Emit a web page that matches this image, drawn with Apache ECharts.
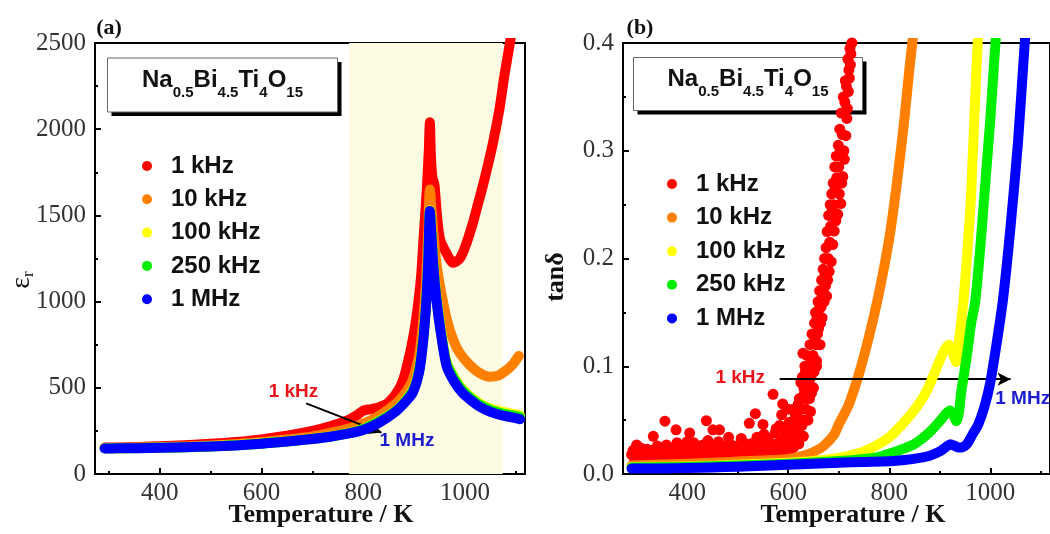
<!DOCTYPE html>
<html><head><meta charset="utf-8">
<script src="https://cdn.jsdelivr.net/npm/echarts@6/dist/echarts.min.js"></script>
<style>html,body{margin:0;padding:0;background:#fff}#c{width:1050px;height:534px}</style>
</head><body><div id="c"></div>
<script>
// ---------- categories / ticks ----------
const seriesNames = ['1 kHz', '10 kHz', '100 kHz', '250 kHz', '1 MHz'];
const seriesColors = ['#ff0000', '#ff8000', '#ffff00', '#00ee00', '#0000ff'];
const xMajorTicks = [400, 600, 800, 1000];
const xMinorTicks = [300, 500, 700, 900, 1100];
const xRange = [273, 1118];
const epsRange = [0, 2500];
const tanRange = [0, 0.4];
const shadeRange = [772, 1074];

// ---------- panel (a): permittivity ----------
const epsRedT = [292, 320, 360, 400, 450, 500, 550, 600, 650, 700, 735, 770, 790, 800, 815, 830, 850, 870, 883, 900, 913, 919, 925, 929, 931, 933, 936, 940, 945, 951, 962, 977, 990, 1002, 1015, 1025, 1035, 1045, 1055, 1068, 1078, 1088, 1096];
const epsRedV = [153, 154, 157, 161, 167, 175, 186, 201, 222, 250, 277, 312, 345, 368, 376, 386, 415, 490, 590, 820, 1120, 1380, 1650, 1880, 2040, 1850, 1720, 1680, 1500, 1360, 1290, 1225, 1250, 1330, 1450, 1560, 1670, 1790, 1920, 2120, 2320, 2494, 2650];

const epsOrangeT = [292, 320, 360, 400, 450, 500, 550, 600, 650, 700, 735, 770, 800, 830, 865, 885, 898, 910, 918, 924, 928, 931, 934, 940, 945, 951, 964, 978, 990, 1010, 1029, 1049, 1065, 1082, 1095, 1106];
const epsOrangeV = [150, 151, 153, 156, 160, 166, 174, 186, 200, 218, 238, 262, 292, 335, 410, 480, 550, 690, 890, 1150, 1420, 1650, 1550, 1330, 1200, 1090, 900, 770, 700, 630, 585, 564, 570, 603, 640, 685];

const epsYellowT = [292, 360, 450, 550, 650, 735, 800, 865, 898, 910, 918, 924, 928, 931, 934, 938, 944, 952, 964, 980, 996, 1015, 1029, 1050, 1075, 1101, 1108];
const epsYellowV = [149, 151, 156, 168, 190, 218, 262, 370, 490, 610, 790, 1010, 1260, 1530, 1400, 1220, 1030, 850, 650, 555, 490, 440, 410, 380, 360, 345, 340];

const epsGreenT = [292, 360, 450, 550, 650, 735, 800, 865, 898, 910, 918, 924, 928, 931, 934, 938, 944, 952, 964, 980, 996, 1015, 1029, 1050, 1075, 1101, 1108];
const epsGreenV = [149, 151, 155, 167, 189, 217, 260, 368, 485, 605, 785, 1005, 1255, 1525, 1395, 1210, 1020, 840, 640, 548, 482, 432, 402, 372, 351, 335, 331];

const epsBlueT = [292, 320, 360, 400, 450, 500, 550, 600, 650, 700, 735, 770, 800, 830, 865, 885, 898, 910, 918, 924, 928, 931, 934, 938, 944, 952, 964, 980, 996, 1015, 1029, 1050, 1075, 1101, 1108];
const epsBlueV = [148, 149, 150, 152, 155, 160, 166, 175, 188, 203, 216, 234, 255, 295, 365, 425, 475, 590, 775, 1000, 1250, 1525, 1390, 1200, 1010, 830, 625, 530, 468, 420, 390, 360, 338, 323, 318];

// ---------- panel (b): loss tangent ----------
const tanRedT = [290, 296, 300, 306, 312, 318, 324, 330, 333, 338, 344, 350, 356, 360, 366, 372, 378, 382, 388, 394, 400, 405, 410, 416, 422, 428, 434, 438, 444, 451, 456, 464, 468, 474, 480, 484, 490, 496, 502, 510, 516, 523, 528, 535, 540, 546, 550, 555, 560, 565, 570, 574, 578, 583, 589, 593, 597, 602, 606, 610, 613, 616, 619, 622, 625, 627, 629, 632, 634, 636, 638, 640, 642, 645, 648, 650, 652, 655, 658, 661, 664, 668, 671, 674, 678, 681, 685, 688, 691, 694, 698, 701, 704, 706, 708, 710, 711, 714, 716, 717, 719, 721, 723, 724, 726,
  300, 315, 340, 365, 390, 415, 440, 465, 490, 515, 540, 565, 590, 605, 620, 631, 644, 656,
  293, 298, 303, 309, 315, 321, 327, 335, 341, 347, 353, 359, 363, 369, 375, 380, 385, 391, 397, 403, 408, 413, 419, 425, 431, 436, 441, 447, 453, 459, 462, 471, 477, 482, 487, 493, 499, 505, 507, 513, 519, 526, 531, 538, 543, 548, 552, 558, 562, 568, 572, 576, 580, 585, 587, 591, 595, 599, 600, 604, 608, 611, 614, 617, 620, 621, 623, 626, 628, 630, 631, 633, 635, 637, 639, 641, 643, 644, 646, 647, 649, 651, 653, 654, 656, 657, 659, 660, 662, 663, 665, 666, 667, 669, 670, 672, 673, 675, 676, 677, 679, 680, 682, 683, 684, 686, 687, 689, 690, 692, 693, 695, 696, 699, 700, 702, 703, 705, 707, 709, 712, 713, 715, 718, 720, 722];
const tanRedV = [0.018, 0.014, 0.027, 0.016, 0.020, 0.013, 0.017, 0.022, 0.035, 0.015, 0.019, 0.024, 0.049, 0.016, 0.021, 0.014, 0.041, 0.019, 0.025, 0.015, 0.030, 0.038, 0.018, 0.022, 0.016, 0.026, 0.019, 0.0495, 0.022, 0.041, 0.017, 0.041, 0.024, 0.018, 0.027, 0.028, 0.020, 0.016, 0.024, 0.030, 0.019, 0.047, 0.025, 0.056, 0.022, 0.030, 0.046, 0.026, 0.033, 0.021, 0.074, 0.038, 0.028, 0.045, 0.065, 0.035, 0.025, 0.048, 0.040, 0.060, 0.030, 0.0315, 0.052, 0.070, 0.085, 0.045, 0.112, 0.075, 0.095, 0.060, 0.083, 0.100, 0.070, 0.090, 0.104, 0.080, 0.140, 0.120, 0.130, 0.153, 0.140, 0.166, 0.160, 0.175, 0.180, 0.188, 0.197, 0.213, 0.2255, 0.235, 0.241, 0.260, 0.251, 0.270, 0.276, 0.300, 0.292, 0.314, 0.330, 0.339, 0.355, 0.3675, 0.380, 0.390, 0.400,
  0.012, 0.013, 0.012, 0.013, 0.014, 0.014, 0.015, 0.015, 0.016, 0.017, 0.017, 0.018, 0.020, 0.022, 0.040, 0.050, 0.058, 0.100,
  0.022, 0.011, 0.019, 0.024, 0.018, 0.023, 0.014, 0.020, 0.026, 0.017, 0.021, 0.027, 0.013, 0.024, 0.018, 0.029, 0.015, 0.021, 0.026, 0.017, 0.023, 0.029, 0.014, 0.021, 0.027, 0.017, 0.031, 0.018, 0.025, 0.020, 0.030, 0.016, 0.023, 0.034, 0.018, 0.026, 0.021, 0.017, 0.033, 0.025, 0.021, 0.028, 0.018, 0.034, 0.024, 0.017, 0.037, 0.022, 0.029, 0.019, 0.027, 0.042, 0.022, 0.030, 0.055, 0.026, 0.040, 0.020, 0.060, 0.031, 0.045, 0.025, 0.055, 0.040, 0.065, 0.028, 0.050, 0.060, 0.090, 0.035, 0.080, 0.100, 0.070, 0.110, 0.050, 0.085, 0.120, 0.095, 0.075, 0.130, 0.110, 0.095, 0.125, 0.150, 0.105, 0.145, 0.160, 0.135, 0.170, 0.120, 0.155, 0.180, 0.145, 0.190, 0.170, 0.200, 0.185, 0.210, 0.165, 0.225, 0.200, 0.240, 0.215, 0.250, 0.230, 0.260, 0.245, 0.270, 0.250, 0.285, 0.265, 0.295, 0.275, 0.305, 0.285, 0.320, 0.300, 0.335, 0.315, 0.350, 0.345, 0.365, 0.360, 0.385, 0.375, 0.395];

const tanOrangeT = [290, 350, 400, 450, 500, 550, 600, 630, 650, 670, 690, 700, 720, 740, 760, 780, 800, 815, 830, 840, 848];
const tanOrangeV = [0.008, 0.0088, 0.0095, 0.0105, 0.0115, 0.0125, 0.0140, 0.0170, 0.0205, 0.026, 0.036, 0.046, 0.0647, 0.093, 0.128, 0.169, 0.219, 0.270, 0.330, 0.377, 0.410];

const tanYellowT = [290, 400, 500, 600, 650, 700, 750, 780, 800, 833, 860, 878, 895, 910, 918, 925, 932, 937, 942, 947, 955, 962, 970, 975, 980];
const tanYellowV = [0.0065, 0.007, 0.0085, 0.0105, 0.012, 0.015, 0.021, 0.028, 0.034, 0.050, 0.066, 0.081, 0.100, 0.116, 0.120, 0.113, 0.104, 0.120, 0.140, 0.162, 0.210, 0.260, 0.350, 0.400, 0.440];

const tanGreenT = [290, 400, 500, 600, 700, 750, 780, 820, 850, 878, 900, 912, 920, 926, 933, 938, 942, 947, 955, 962, 970, 980, 990, 1000, 1010, 1016];
const tanGreenV = [0.006, 0.0065, 0.0078, 0.0095, 0.012, 0.014, 0.016, 0.022, 0.028, 0.038, 0.049, 0.056, 0.059, 0.055, 0.049, 0.058, 0.075, 0.090, 0.115, 0.140, 0.160, 0.210, 0.270, 0.330, 0.400, 0.440];

const tanBlueT = [290, 350, 400, 450, 500, 550, 600, 650, 700, 750, 800, 830, 860, 880, 900, 912, 921, 930, 937, 945, 954, 965, 976, 988, 999, 1012, 1025, 1040, 1055, 1068, 1075];
const tanBlueV = [0.005, 0.0052, 0.0055, 0.006, 0.0068, 0.0076, 0.0085, 0.0095, 0.0105, 0.0112, 0.0118, 0.013, 0.015, 0.017, 0.021, 0.025, 0.0275, 0.026, 0.0245, 0.025, 0.028, 0.037, 0.046, 0.062, 0.083, 0.120, 0.162, 0.230, 0.310, 0.400, 0.440];

// annotations (data coordinates)
const arrowA = [[688, 410], [836, 240]];
const arrowB = [[583, 0.088], [1040, 0.088]];
const labelsA = [{ t: '1 kHz', x: 663, y: 478, c: '#e8141a' }, { t: '1 MHz', x: 886, y: 190, c: '#1c1cd0' }];
const labelsB = [{ t: '1 kHz', x: 505, y: 0.089, c: '#e8141a' }, { t: '1 MHz', x: 1064, y: 0.070, c: '#1c1cd0' }];

// ---------- build ----------
const zip = (a, b) => a.map((v, i) => [v, b[i]]);
const epsData = [zip(epsRedT, epsRedV), zip(epsOrangeT, epsOrangeV), zip(epsYellowT, epsYellowV), zip(epsGreenT, epsGreenV), zip(epsBlueT, epsBlueV)];
const tanData = [zip(tanRedT, tanRedV), zip(tanOrangeT, tanOrangeV), zip(tanYellowT, tanYellowV), zip(tanGreenT, tanGreenV), zip(tanBlueT, tanBlueV)];

const serif = 'Liberation Serif';
const sans = 'Liberation Sans';
const tickLabelStyle = { fontFamily: serif, fontSize: 25, color: '#333' };

function mainX(grid) {
  return {
    type: 'value', gridIndex: grid, min: xRange[0], max: xRange[1],
    axisLine: { show: true, onZero: false, lineStyle: { color: '#000', width: 2 } },
    axisTick: { show: true, inside: true, length: 6, customValues: xMajorTicks, lineStyle: { color: '#000', width: 2 } },
    axisLabel: { show: true, margin: 7, customValues: xMajorTicks, formatter: v => String(v), ...tickLabelStyle },
    splitLine: { show: false }
  };
}
function minorX(grid) {
  return {
    type: 'value', gridIndex: grid, min: xRange[0], max: xRange[1], position: 'bottom',
    axisLine: { show: false },
    axisTick: { show: true, inside: true, length: 3, customValues: xMinorTicks, lineStyle: { color: '#000', width: 2 } },
    axisLabel: { show: false },
    splitLine: { show: false }
  };
}
function mainY(grid, rng, interval, fmt) {
  return {
    type: 'value', gridIndex: grid, min: rng[0], max: rng[1], interval: interval,
    axisLine: { show: true, onZero: false, lineStyle: { color: '#000', width: 2 } },
    axisTick: { show: true, inside: true, length: 6, lineStyle: { color: '#000', width: 2 } },
    minorTick: { show: true, splitNumber: 2, length: 3, lineStyle: { color: '#000', width: 2 } },
    axisLabel: { show: true, margin: 9, formatter: fmt, ...tickLabelStyle },
    splitLine: { show: false }
  };
}

const series = [];
series.push({
  type: 'line', name: 'shade', xAxisIndex: 0, yAxisIndex: 0, data: [], z: 1, silent: true,
  markArea: { silent: true, itemStyle: { color: '#fdfbe2' }, data: [[{ xAxis: shadeRange[0] }, { xAxis: shadeRange[1] }]] }
});
seriesNames.forEach((n, i) => {
  series.push({
    type: 'line', name: n, xAxisIndex: 0, yAxisIndex: 0, data: epsData[i], z: 3 + i,
    showSymbol: false, smooth: 0.25, color: seriesColors[i],
    lineStyle: { width: 10, color: seriesColors[i], cap: 'round', join: 'round' },
    itemStyle: { color: seriesColors[i] }
  });
});
seriesNames.forEach((n, i) => {
  if (i === 0) {
    series.push({
      type: 'scatter', name: n, xAxisIndex: 2, yAxisIndex: 1, data: tanData[i], z: 3,
      symbol: 'circle', symbolSize: 11, itemStyle: { color: seriesColors[i], opacity: 1 }
    });
  } else {
    series.push({
      type: 'line', name: n, xAxisIndex: 2, yAxisIndex: 1, data: tanData[i], z: 3 + i,
      showSymbol: false, smooth: 0.25, color: seriesColors[i],
      lineStyle: { width: 10, color: seriesColors[i], cap: 'round', join: 'round' },
      itemStyle: { color: seriesColors[i] }
    });
  }
});
const arrowStyle = { symbol: ['none', 'arrow'], symbolSize: [10, 13], silent: true, label: { show: false },
  lineStyle: { color: '#000', width: 2, type: 'solid' } };
series.push({ type: 'line', name: 'arrA', xAxisIndex: 0, yAxisIndex: 0, data: [], z: 20,
  markLine: { ...arrowStyle, data: [[{ coord: arrowA[0] }, { coord: arrowA[1] }]] } });
series.push({ type: 'line', name: 'arrB', xAxisIndex: 2, yAxisIndex: 1, data: [], z: 20,
  markLine: { ...arrowStyle, data: [[{ coord: arrowB[0] }, { coord: arrowB[1] }]] } });

function legend(left, top, gap) {
  return {
    data: seriesNames.map(n => ({ name: n, icon: 'circle' })), orient: 'vertical', left: left, top: top,
    itemWidth: 10, itemHeight: 10, itemGap: gap, selectedMode: false,
    textStyle: { fontFamily: sans, fontWeight: 'bold', fontSize: 24, color: '#111', lineHeight: 24, padding: [0, 0, 0, 14] }
  };
}

function formulaBox(x, y, w, h) {
  return {
    type: 'group', x: x, y: y, children: [
      { type: 'rect', shape: { x: 4, y: 4, width: w, height: h }, style: { fill: '#000' } },
      { type: 'rect', shape: { x: 0, y: 0, width: w, height: h }, style: { fill: '#fff', stroke: '#666', lineWidth: 1 } },
      { type: 'text', x: w / 2, y: h / 2 - 5, style: {
          text: '{m|Na}{s|0.5}{m|Bi}{s|4.5}{m|Ti}{s|4}{m|O}{s|15}', align: 'center', verticalAlign: 'middle',
          rich: {
            m: { fontFamily: sans, fontWeight: 'bold', fontSize: 24, lineHeight: 40, verticalAlign: 'middle', fill: '#111' },
            s: { fontFamily: sans, fontWeight: 'bold', fontSize: 15, lineHeight: 10, verticalAlign: 'bottom', fill: '#111' }
          } } }
    ]
  };
}

const chart = echarts.init(document.getElementById('c'), null, { renderer: 'canvas' });
chart.setOption({
  animation: false,
  backgroundColor: '#fff',
  grid: [
    { left: 95, top: 43, width: 430, height: 431, show: true, borderColor: '#000', borderWidth: 2, backgroundColor: 'transparent' },
    { left: 623, top: 43, width: 430, height: 431, show: true, borderColor: '#000', borderWidth: 2, backgroundColor: 'transparent' }
  ],
  xAxis: [mainX(0), minorX(0), mainX(1), minorX(1)],
  yAxis: [mainY(0, epsRange, 500, v => String(v)), mainY(1, tanRange, 0.1, v => v.toFixed(1))],
  legend: [legend(137, 149, 9.3), legend(662, 167, 9.6)],
  series: series
});

const g = [];
labelsA.forEach(l => {
  const p = chart.convertToPixel({ xAxisIndex: 0, yAxisIndex: 0 }, [l.x, l.y]);
  g.push({ type: 'text', x: p[0], y: p[1], z: 30, style: { text: l.t, fill: l.c, font: 'bold 19px "Liberation Sans"', align: 'center', verticalAlign: 'middle' } });
});
labelsB.forEach(l => {
  const p = chart.convertToPixel({ xAxisIndex: 2, yAxisIndex: 1 }, [l.x, l.y]);
  g.push({ type: 'text', x: p[0], y: p[1], z: 30, style: { text: l.t, fill: l.c, font: 'bold 19px "Liberation Sans"', align: 'center', verticalAlign: 'middle' } });
});
g.push({ type: 'text', x: 109, y: 28, z: 30, style: { text: '(a)', font: 'bold 22px "Liberation Serif"', fill: '#111', align: 'center', verticalAlign: 'middle' } });
g.push({ type: 'text', x: 640, y: 28, z: 30, style: { text: '(b)', font: 'bold 22px "Liberation Serif"', fill: '#111', align: 'center', verticalAlign: 'middle' } });
g.push({ type: 'text', x: 321, y: 515, z: 30, style: { text: 'Temperature / K', font: 'bold 26px "Liberation Serif"', fill: '#111', align: 'center', verticalAlign: 'middle' } });
g.push({ type: 'text', x: 853, y: 515, z: 30, style: { text: 'Temperature / K', font: 'bold 26px "Liberation Serif"', fill: '#111', align: 'center', verticalAlign: 'middle' } });
g.push({ type: 'text', x: 22, y: 280, rotation: Math.PI / 2, z: 30, style: {
  text: '{e|ε}{s|r}', align: 'center', verticalAlign: 'middle',
  rich: { e: { fontFamily: serif, fontSize: 28, lineHeight: 30, verticalAlign: 'middle', fill: '#111' },
          s: { fontFamily: serif, fontSize: 17, lineHeight: 8, verticalAlign: 'bottom', fill: '#111' } } } });
g.push({ type: 'text', x: 556, y: 277, rotation: Math.PI / 2, z: 30, style: { text: 'tanδ', font: 'bold 26px "Liberation Serif"', fill: '#111', align: 'center', verticalAlign: 'middle' } });
g.push(formulaBox(107.5, 58, 230, 54));
g.push(formulaBox(633.5, 57.5, 229, 53));
chart.setOption({ graphic: g });
</script></body></html>
